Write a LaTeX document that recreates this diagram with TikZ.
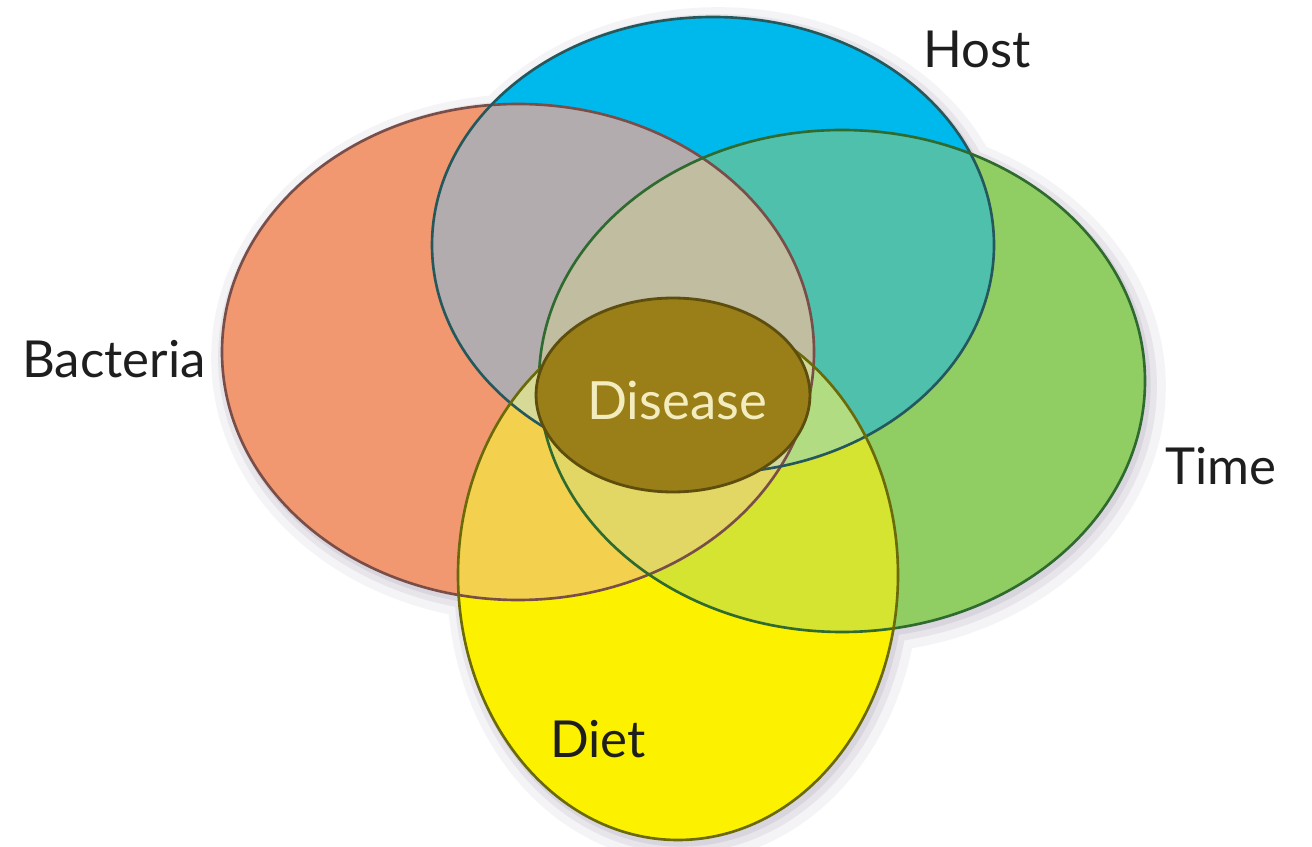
\documentclass[tikz,border=0pt]{standalone}
\usepackage{fontspec}
\setmainfont{Lato}
\usetikzlibrary{shapes.geometric}
\definecolor{cB}{HTML}{F19870}
\definecolor{cH}{HTML}{00B9EC}
\definecolor{cT}{HTML}{90CE64}
\definecolor{cD}{HTML}{FCF200}
\definecolor{cBH}{HTML}{B2ACAF}
\definecolor{cHT}{HTML}{4EC0AC}
\definecolor{cTD}{HTML}{D4E430}
\definecolor{cBD}{HTML}{F3D04E}
\definecolor{cBT}{HTML}{D2CC90}
\definecolor{cHD}{HTML}{B2DC82}
\definecolor{cBHT}{HTML}{C0BDA0}
\definecolor{cBHD}{HTML}{D6DA96}
\definecolor{cBTD}{HTML}{E2D664}
\definecolor{cHTD}{HTML}{B2DC82}
\definecolor{cAll}{HTML}{CFD89A}
\definecolor{cDis}{HTML}{9A7F18}
\definecolor{cDisLine}{HTML}{5E4E0E}
\definecolor{cDisText}{HTML}{F2ECBE}
\definecolor{lB}{HTML}{7A4E48}
\definecolor{lH}{HTML}{25585C}
\definecolor{lT}{HTML}{2F6A2E}
\definecolor{lD}{HTML}{6A6A08}
\definecolor{cLabel}{HTML}{1E1E1E}
\definecolor{cShadow}{HTML}{9A90A8}
\def\pB{(518,352) ellipse [x radius=296, y radius=248]}
\def\pH{(713,245) ellipse [x radius=281, y radius=228]}
\def\pT{(842,381) ellipse [x radius=303, y radius=251]}
\def\pD{(678,575) ellipse [x radius=220, y radius=265]}
\tikzset{
  outline/.style={line width=1.5pt},
  label/.style={font=\fontsize{29}{34}\selectfont, text=cLabel, inner sep=0pt, anchor=base west},
  halo/.style={draw=cShadow, fill=cShadow},
}
\begin{document}
\begin{tikzpicture}[x=0.02cm, y=-0.02cm]
\fill[white] (0,0) rectangle (1312,847);
\useasboundingbox (0,0) rectangle (1312,847);
% soft shadow
\begin{scope}[transparency group, opacity=0.10, shift={(5,6)}]
  \path[halo, line width=18pt] \pB \pH \pT \pD;
\end{scope}
\begin{scope}[transparency group, opacity=0.14, shift={(4,5)}]
  \path[halo, line width=9pt] \pB \pH \pT \pD;
\end{scope}
\begin{scope}[transparency group, opacity=0.18, shift={(3,4)}]
  \path[halo, line width=3pt] \pB \pH \pT \pD;
\end{scope}
% single sets
\fill[cB] \pB;
\fill[cH] \pH;
\fill[cT] \pT;
\fill[cD] \pD;
% pairs
\begin{scope}\clip \pB; \fill[cBH] \pH; \end{scope}
\begin{scope}\clip \pH; \fill[cHT] \pT; \end{scope}
\begin{scope}\clip \pT; \fill[cTD] \pD; \end{scope}
\begin{scope}\clip \pB; \fill[cBD] \pD; \end{scope}
\begin{scope}\clip \pB; \fill[cBT] \pT; \end{scope}
\begin{scope}\clip \pH; \fill[cHD] \pD; \end{scope}
% triples
\begin{scope}\clip \pB; \clip \pH; \fill[cBHT] \pT; \end{scope}
\begin{scope}\clip \pB; \clip \pH; \fill[cBHD] \pD; \end{scope}
\begin{scope}\clip \pB; \clip \pT; \fill[cBTD] \pD; \end{scope}
\begin{scope}\clip \pH; \clip \pT; \fill[cHTD] \pD; \end{scope}
% all four
\begin{scope}\clip \pB; \clip \pH; \clip \pT; \fill[cAll] \pD; \end{scope}
% outlines
\draw[outline, lB] \pB;
\draw[outline, lH] \pH;
\draw[outline, lT] \pT;
\draw[outline, lD] \pD;
% disease
\node[draw=cDisLine, line width=1.6pt, fill=cDis, ellipse, minimum width=5.48cm, minimum height=3.88cm, inner sep=0pt] (disease) at (673,395) {};
\node[font=\fontsize{30}{34}\selectfont, text=cDisText, inner sep=0pt, anchor=base] (distext) at (677,420) {Disease};
% labels
\node[label] (bacteria) at (22,378) {Bacteria};
\node[label] (host) at (923,68) {Host};
\node[label] (time) at (1165,485) {Time};
\node[label] (diet) at (550,757) {Diet};
\end{tikzpicture}
\end{document}
